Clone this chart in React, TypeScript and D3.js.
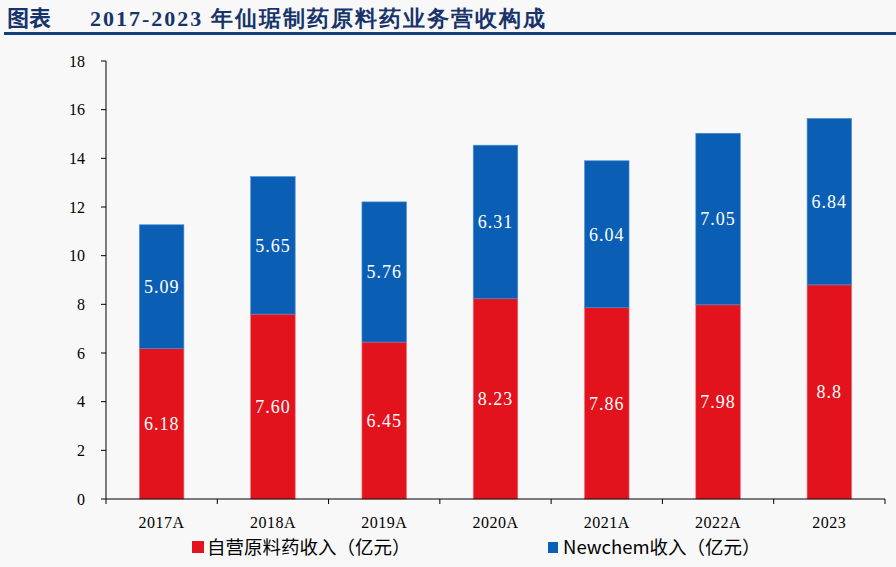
import React from "react";
import * as d3 from "d3";

const categories = ["2017A", "2018A", "2019A", "2020A", "2021A", "2022A", "2023"];
const ownApi = [6.18, 7.6, 6.45, 8.23, 7.86, 7.98, 8.8];
const newchem = [5.09, 5.65, 5.76, 6.31, 6.04, 7.05, 6.84];
const ownLabels = ["6.18", "7.60", "6.45", "8.23", "7.86", "7.98", "8.8"];
const newchemLabels = ["5.09", "5.65", "5.76", "6.31", "6.04", "7.05", "6.84"];
const yTicks = [0, 2, 4, 6, 8, 10, 12, 14, 16, 18];
const seriesNames = ["自营原料药收入（亿元）", "Newchem收入（亿元）"];
const titleLead = "图表";
const titleText = "2017-2023 年仙琚制药原料药业务营收构成";

const W = 896;
const H = 567;
const RED = "#e2131c";
const BLUE = "#0a5fb5";
const SERIF = "'Liberation Serif', 'DejaVu Serif', serif";
const SANS = "'Noto Sans CJK SC', 'Noto Sans', sans-serif";

export default function App() {
  const x0 = 106;
  const x1 = 885;
  const yBase = 499;
  const yTop = 61;
  const x = d3.scaleBand<string>().domain(categories).range([x0, x1]).paddingInner(0.6).paddingOuter(0.3);
  const band = d3.scaleBand<string>().domain(categories).range([x0, x1]);
  const y = d3.scaleLinear().domain([0, 18]).range([yBase, yTop]);

  return (
    <div style={{ position: "fixed", left: 0, top: 0, width: W, height: H }}>
      <svg width={W} height={H} style={{ display: "block" }}>
        <rect x={0} y={0} width={W} height={H} fill="#f8f8f8" />
        {/* Title */}
        <text x={7} y={26} fontFamily={SANS} fontWeight={700} fontSize={22} fill="#17346a">
          {titleLead}
        </text>
        <text x={90} y={26} fontFamily={SERIF} fontWeight={700} fontSize={22} fill="#17346a" letterSpacing={2}>
          {titleText}
        </text>
        <rect x={4} y={32} width={W - 4} height={3} fill="#123f7e" />

        {/* Bars */}
        {categories.map((c, i) => {
          const bx = x(c)!;
          const bw = x.bandwidth();
          const a = ownApi[i];
          const b = newchem[i];
          return (
            <g key={c}>
              <rect x={bx} y={y(a)} width={bw} height={y(0) - y(a)} fill={RED} stroke="#ef6a70" strokeWidth={0.6} />
              <rect x={bx} y={y(a + b)} width={bw} height={y(a) - y(a + b)} fill={BLUE} stroke="#4d8fd4" strokeWidth={0.6} />
              <text x={bx + bw / 2} y={(y(0) + y(a)) / 2} dy="0.35em" textAnchor="middle" fontFamily={SERIF} fontSize={18} fill="#ffffff" letterSpacing={1}>
                {ownLabels[i]}
              </text>
              <text x={bx + bw / 2} y={(y(a) + y(a + b)) / 2} dy="0.35em" textAnchor="middle" fontFamily={SERIF} fontSize={18} fill="#ffffff" letterSpacing={1}>
                {newchemLabels[i]}
              </text>
            </g>
          );
        })}

        {/* Y axis */}
        <line x1={x0} x2={x0} y1={yTop} y2={yBase} stroke="#000" strokeWidth={1} />
        {yTicks.map((t) => (
          <g key={t}>
            <line x1={x0 - 5} x2={x0} y1={y(t)} y2={y(t)} stroke="#000" strokeWidth={1} />
            <text x={x0 - 21} y={y(t)} dy="0.35em" textAnchor="end" fontFamily={SERIF} fontSize={16} fill="#000">
              {t}
            </text>
          </g>
        ))}

        {/* X axis */}
        <line x1={x0} x2={x1} y1={yBase} y2={yBase} stroke="#000" strokeWidth={1} />
        {categories.map((c) => (
          <line key={"t" + c} x1={band(c)!} x2={band(c)!} y1={yBase} y2={yBase + 5} stroke="#000" strokeWidth={1} />
        ))}
        <line x1={x1} x2={x1} y1={yBase} y2={yBase + 5} stroke="#000" strokeWidth={1} />
        {categories.map((c) => (
          <text key={"l" + c} x={band(c)! + band.bandwidth() / 2} y={522} dy="0.35em" textAnchor="middle" fontFamily={SERIF} fontSize={16} fill="#000" letterSpacing={0.5}>
            {c}
          </text>
        ))}

        {/* Legend */}
        <rect x={192} y={541} width={12} height={12} fill={RED} />
        <text x={207} y={548} dy="0.35em" fontFamily={SANS} fontSize={18.5} fill="#000">
          {seriesNames[0]}
        </text>
        <rect x={548} y={542} width={10} height={11} fill={BLUE} />
        <text x={563} y={548} dy="0.35em" fontFamily={SANS} fontSize={18.5} fill="#000">
          {seriesNames[1]}
        </text>
      </svg>
    </div>
  );
}
